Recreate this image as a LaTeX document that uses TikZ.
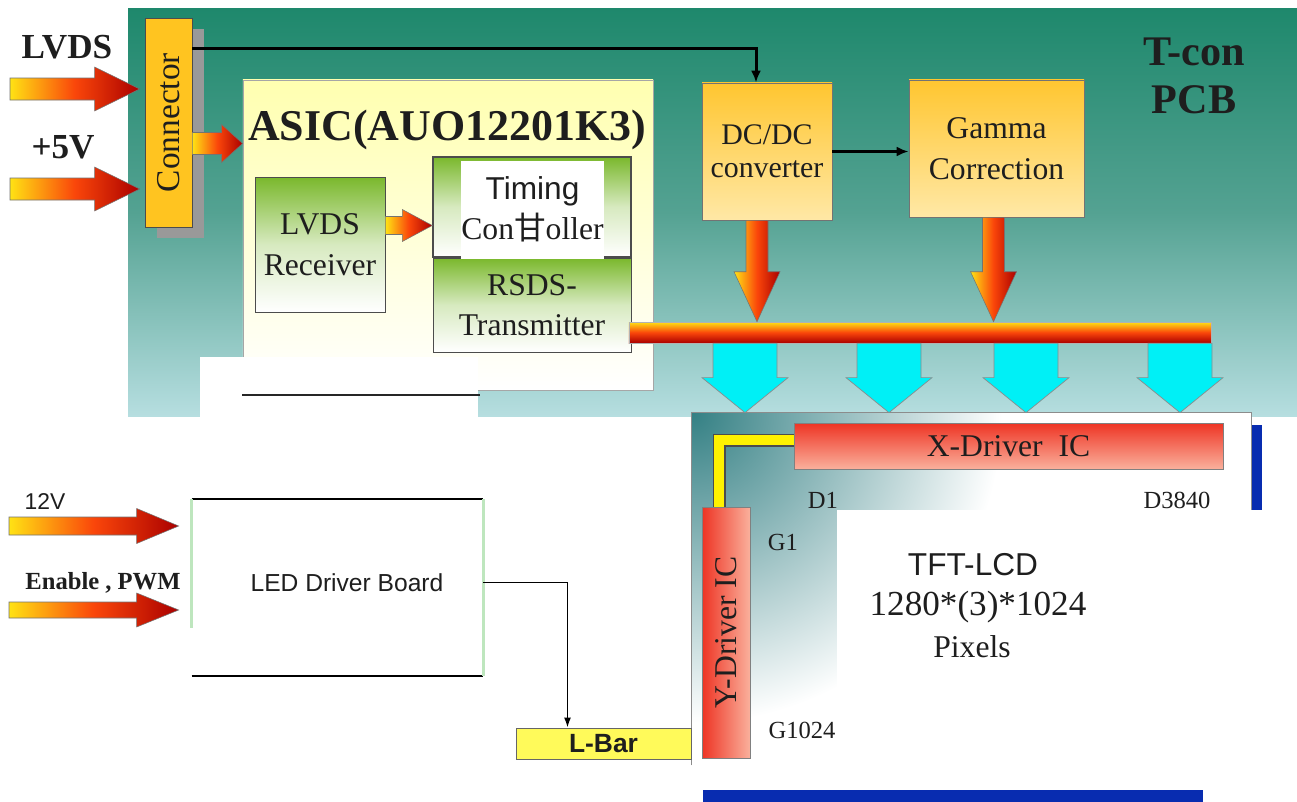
\documentclass[tikz,border=0pt]{standalone}
\usepackage{fontspec}
\setmainfont{Liberation Serif}
\setsansfont{Liberation Sans}
\newfontfamily\cjkfont{Noto Sans CJK SC}
\usepackage{tikz}
\usetikzlibrary{arrows.meta,positioning,calc,shadows}
\definecolor{PcbTop}{RGB}{30,136,108}
\definecolor{PcbMid}{RGB}{84,162,146}
\definecolor{PcbBottom}{RGB}{182,222,224}
\definecolor{PanelTeal}{RGB}{52,128,132}
\definecolor{ConnGold}{RGB}{255,196,32}
\definecolor{AsicYellow}{RGB}{255,255,176}
\definecolor{ChipGreen}{RGB}{122,184,44}
\definecolor{PowerTop}{RGB}{255,198,48}
\definecolor{PowerBottom}{RGB}{255,232,166}
\definecolor{DrvRed}{RGB}{238,52,36}
\definecolor{DrvPink}{RGB}{250,176,156}
\definecolor{HotYellow}{RGB}{255,226,20}
\definecolor{HotRed}{RGB}{250,70,10}
\definecolor{HotDark}{RGB}{170,0,0}
\definecolor{BusCyan}{RGB}{0,240,246}
\definecolor{LcdBlue}{RGB}{8,44,176}
\definecolor{BarYellow}{RGB}{255,250,90}
\definecolor{LedGreen}{RGB}{190,230,190}
\definecolor{TextDark}{RGB}{30,30,30}
% block arrows: [style]{start}{tip}{half body}{half head}{head length}
\newcommand{\fatright}[6][hotarrow]{%
  \path[#1] let \p1=#2, \p2=#3 in
    (\x1,\y1+#4) -- (\x2-#6,\y1+#4) -- (\x2-#6,\y1+#5) -- (\x2,\y1)
    -- (\x2-#6,\y1-#5) -- (\x2-#6,\y1-#4) -- (\x1,\y1-#4) -- cycle;}
\newcommand{\fatdown}[6][hotarrow]{%
  \path[#1] let \p1=#2, \p2=#3 in
    (\x1-#4,\y1) -- (\x1-#4,\y2+#6) -- (\x1-#5,\y2+#6) -- (\x1,\y2)
    -- (\x1+#5,\y2+#6) -- (\x1+#4,\y2+#6) -- (\x1+#4,\y1) -- cycle;}

\begin{document}
\begin{tikzpicture}[
  x=0.2mm, y=-0.2mm,
  font=\fontsize{18}{23}\selectfont,
  chipbox/.style={draw=black!70, line width=0.5pt, align=center, inner sep=0pt, text=TextDark},
  greenbox/.style={chipbox, top color=ChipGreen, bottom color=white, middle color=ChipGreen!30!white},
  powerbox/.style={chipbox, draw=black!55, top color=PowerTop, bottom color=PowerBottom},
  xdrvbox/.style={chipbox, draw=black!50, top color=DrvRed, bottom color=DrvPink},
  ydrvbox/.style={chipbox, draw=black!50, left color=DrvRed, right color=DrvPink},
  pinlbl/.style={font=\fontsize{14}{16}\selectfont, text=TextDark, inner sep=0pt},
  inlbl/.style={font=\bfseries\fontsize{20}{22}\selectfont, text=TextDark, inner sep=0pt},
  hotarrow/.style={draw=black!55, line width=0.3pt, left color=HotYellow, right color=HotDark, middle color=HotRed},
  droparrow/.style={draw=black!45, line width=0.4pt, fill=BusCyan},
  wire/.style={-{Latex[length=2.4mm, width=2mm]}, line width=0.6mm},
  thinwire/.style={-{Latex[length=2mm, width=1.4mm]}, line width=0.3mm}
]
  \useasboundingbox (0,0) rectangle (1297,802);
  \fill[white] (0,0) rectangle (1297,802);

  % T-con board
  \shade[top color=PcbTop, bottom color=PcbBottom, middle color=PcbMid] (128,8) rectangle (1297,416);
  \node[font=\bfseries\fontsize{24}{27}\selectfont, text=TextDark, align=center] (tcon) at (1194,76) {T-con\\PCB};

  % panel
  \begin{scope}
    \clip (692,413) rectangle (1251,765);
    \fill[white] (692,413) rectangle (1251,765);
    \shade[inner color=PanelTeal, outer color=white] (692,413) circle [radius=62mm];
  \end{scope}
  \node[minimum width=111.8mm, minimum height=70.4mm, inner sep=0pt] (panel) at (971.5,589) {};
  \draw[black!45, line width=0.5pt] (panel.south west) |- (panel.north east) -- ++(0,97);
  \fill[white] (837,510) rectangle (1251,765);
  \fill[LcdBlue] (1252,425) rectangle (1262,510);
  \fill[LcdBlue] (703,790) rectangle (1203,802);

  % connector and ASIC
  \node[chipbox, fill=ConnGold, minimum width=9.4mm, minimum height=41.8mm,
        drop shadow={shadow xshift=2.4mm, shadow yshift=-2.2mm, fill=black!40, opacity=1},
        font=\fontsize{19}{21}\selectfont] (conn) at (168.5,122.5) {\rotatebox{90}{Connector}};
  \node[chipbox, draw=black!35, top color=AsicYellow, bottom color=white, minimum width=82mm, minimum height=62mm] (asic) at (448,235) {};
  \node[font=\bfseries\fontsize{25}{27}\selectfont, text=TextDark] (asictitle) at (447,130) {ASIC(AUO12201K3)};
  \fill[white] (200,357) rectangle (478,417);
  \draw[black!85, line width=0.4mm] (242,395) -- (480,395);

  \node[greenbox, minimum width=26mm, minimum height=27mm] (rx) at (320,244.5) {LVDS\\Receiver};
  \node[greenbox, minimum width=39.6mm, minimum height=18.8mm] (rsds) at (532,305) {RSDS-\\Transmitter};
  \node[greenbox, line width=0.8pt, minimum width=39.6mm, minimum height=20mm, above=0pt of rsds] (timing) {};
  \node[fill=white, minimum width=27.8mm, minimum height=19.6mm, inner sep=0pt, align=center, text=TextDark] (timingtxt) at (532.5,209.5) {\sffamily Timing\\Con{\cjkfont 甘}oller};

  % power and gamma
  \node[powerbox, minimum width=26mm, minimum height=27.4mm, font=\fontsize{17}{19}\selectfont] (dcdc) at (767,151.5) {DC/DC\\converter};
  \node[powerbox, minimum width=35mm, minimum height=27.4mm] (gamma) at (996.5,148.5) {Gamma\\Correction};
  \node[draw=black!30, line width=0.3pt, top color=HotYellow, bottom color=HotDark, middle color=HotRed,
        minimum width=116.4mm, minimum height=4.2mm, inner sep=0pt] (bus) at (920,332.5) {};

  \draw[wire] ($(conn.north east)+(0,31)$) -| ($(dcdc.north)+(-11,0)$);
  \draw[wire] (dcdc.east) -- (dcdc.east -| gamma.west);

  % inputs
  \coordinate (inlvds) at (10,89);
  \coordinate (in5v) at (10,189);
  \node[inlbl] (lvdslbl) at (67,47) {LVDS};
  \node[inlbl] (v5lbl) at (63,147) {+5V};
  \fatright{(inlvds)}{($(conn.west)+(-5,0)$)}{2.2mm}{4.4mm}{9mm}
  \fatright{(in5v)}{($(conn.west)+(-5,0)$)}{2.2mm}{4.4mm}{9mm}
  \fatright{($(conn.east)+(0,21)$)}{(asic.west)}{2.2mm}{3.8mm}{4.2mm}
  \fatright{($(rx.east)+(0,-19)$)}{(timing.west)}{1.8mm}{3.2mm}{6mm}
  \fatdown{($(dcdc.south)+(-10,0)$)}{(bus.north)}{2.2mm}{4.6mm}{10mm}
  \fatdown{($(gamma.south)+(-3,0)$)}{(bus.north)}{2.2mm}{4.6mm}{10mm}

  \fatdown[droparrow]{(745,0 |- bus.south)}{(745,0 |- panel.north)}{6.4mm}{8.6mm}{7mm}
  \fatdown[droparrow]{(889,0 |- bus.south)}{(889,0 |- panel.north)}{6.4mm}{8.6mm}{7mm}
  \fatdown[droparrow]{(1026,0 |- bus.south)}{(1026,0 |- panel.north)}{6.4mm}{8.6mm}{7mm}
  \fatdown[droparrow]{(1180,0 |- bus.south)}{(1180,0 |- panel.north)}{6.4mm}{8.6mm}{7mm}

  % drivers
  \node[xdrvbox, minimum width=85.8mm, minimum height=9.2mm] (xdrv) at (1008.5,446) {X-Driver\ \ IC};
  \node[ydrvbox, minimum width=9.6mm, minimum height=50.2mm] (ydrv) at (726,632.5) {\rotatebox{90}{Y-Driver IC}};
  \draw[draw=black!70, line width=0.3mm, double=yellow, double distance=2mm] ($(xdrv.west)+(0,-6)$) -| ($(ydrv.north)+(-7,0)$);

  \node[pinlbl] (d1) at (823,500) {D1};
  \node[pinlbl] (dlast) at (1177,500) {D3840};
  \node[pinlbl] (g1) at (783,542) {G1};
  \node[pinlbl] (glast) at (802,730) {G1024};
  \node[font=\sffamily\fontsize{18}{20}\selectfont, text=TextDark] (tft) at (973,565) {TFT-LCD};
  \node[font=\fontsize{20}{22}\selectfont, text=TextDark] (res) at (978,607) {1280*(3)*1024};
  \node[font=\fontsize{18}{20}\selectfont, text=TextDark] (pix) at (972,647) {Pixels};

  % LED driver
  \node[minimum width=58.2mm, minimum height=35.4mm, inner sep=0pt] (led) at (337.5,587.5) {};
  \node[font=\sffamily\fontsize{14}{16}\selectfont, text=TextDark] (ledtxt) at (347,583) {LED Driver Board};
  \draw[black, line width=0.4mm] (led.north west) -- (led.north east) (led.south west) -- (led.south east);
  \draw[LedGreen, line width=0.5mm] (led.north east) -- (led.south east) (led.north west) -- ++(0,129);
  \node[chipbox, draw=black!60, fill=BarYellow, minimum width=35mm, minimum height=6.2mm,
        font=\sffamily\bfseries\fontsize{15}{17}\selectfont] (lbar) at (603.5,743.5) {L-Bar};
  \draw[thinwire] ($(led.east)+(0,-5)$) -| ($(lbar.north)+(-36,0)$);

  \coordinate (in12) at (9,526);
  \coordinate (inen) at (9,610);
  \node[font=\sffamily\fontsize{13}{15}\selectfont, text=TextDark] (v12) at (45,502) {12V};
  \node[inlbl, font=\bfseries\fontsize{14}{16}\selectfont] (enpwm) at (103,583) {Enable , PWM};
  \fatright{(in12)}{($(led.west)+(-13,0)$)}{1.8mm}{3.5mm}{8.4mm}
  \fatright{(inen)}{($(led.west)+(-13,0)$)}{1.6mm}{3.4mm}{8.4mm}
\end{tikzpicture}
\end{document}
